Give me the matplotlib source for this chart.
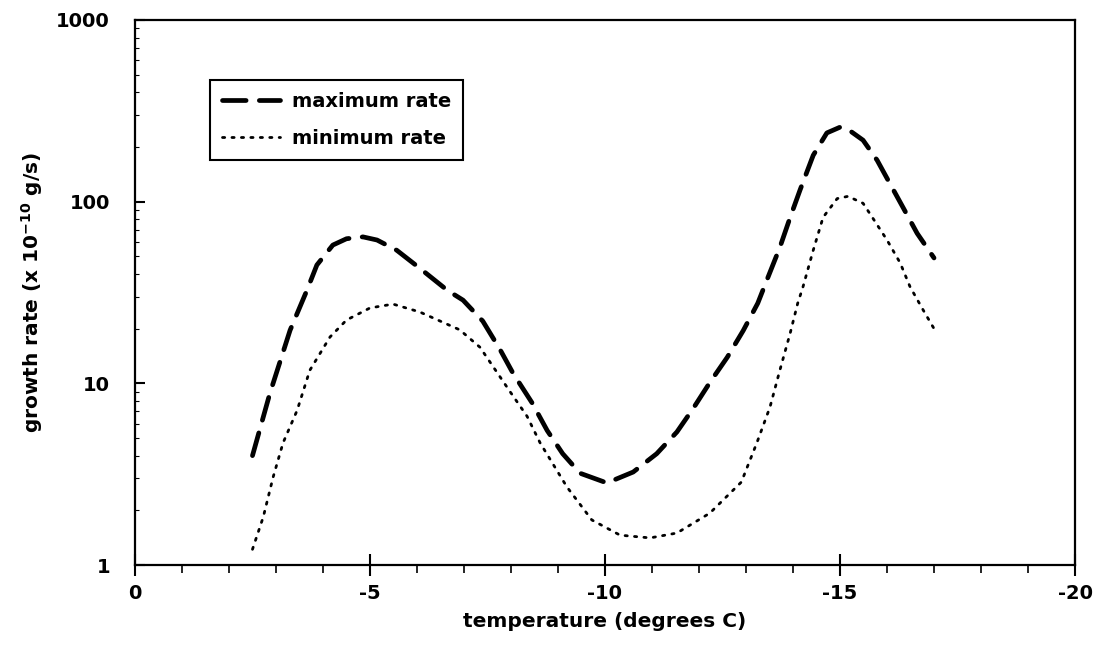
import matplotlib
matplotlib.use("Agg")
import matplotlib.pyplot as plt
from matplotlib.ticker import FixedLocator, NullFormatter

plt.rcParams['font.family'] = ['DejaVu Sans']
plt.rcParams['font.weight'] = 'bold'
plt.rcParams['axes.unicode_minus'] = False

# maximum rate curve
temp_max = [-2.5, -2.87, -3.3, -3.66, -3.87, -4.21, -4.5, -4.85, -5.15, -5.57,
            -6.06, -6.64, -6.98, -7.4, -7.77, -8.04, -8.45, -8.77, -9.1, -9.47,
            -10.04, -10.6, -11.1, -11.53, -11.88, -12.23, -12.6, -12.94, -13.25,
            -13.47, -13.72, -13.94, -14.15, -14.43, -14.72, -15.0, -15.17, -15.49,
            -15.79, -16.06, -16.34, -16.64, -17.0]
rate_max = [4.0, 8.8, 19.6, 32.6, 44.8, 57.7, 62.5, 64, 61.5, 54,
            43, 32.6, 28.7, 22, 15.3, 11.4, 7.8, 5.5, 4.1, 3.2,
            2.83, 3.25, 4.1, 5.4, 7.3, 10.1, 13.9, 19.5, 27.6,
            38.5, 56, 82, 116, 180, 239, 257, 250, 218,
            169, 126, 93, 67, 49]

# minimum rate curve
temp_min = [-2.5, -2.73, -2.94, -3.15, -3.45, -3.72, -4.15, -4.5, -5.0, -5.49,
            -6.06, -6.91, -7.34, -7.98, -8.34, -8.62, -9.19, -9.72, -10.32, -10.96,
            -11.53, -12.23, -12.9, -13.23, -13.51, -13.72, -13.94, -14.1, -14.21,
            -14.43, -14.64, -14.94, -15.17, -15.49, -15.7, -16.0, -16.28, -16.49,
            -16.77, -17.0]
rate_min = [1.22, 1.84, 3.05, 4.7, 7.1, 11.8, 18, 22.3, 26, 27.3,
            24.7, 19.7, 15.8, 9.0, 6.6, 4.7, 2.69, 1.77, 1.46, 1.41,
            1.5, 1.93, 2.86, 4.7, 7.4, 11.8, 18.9, 27.6, 33.8,
            54, 82, 104, 107, 98, 81, 61.5, 46, 34,
            25.3, 20]

x_ticks = [0, -5, -10, -15, -20]
x_labels = ['0', '-5', '-10', '-15', '-20']
y_ticks = [1, 10, 100, 1000]
y_labels = ['1', '10', '100', '1000']

fig, ax = plt.subplots(figsize=(11, 6.62), dpi=100)
fig.subplots_adjust(left=0.1227, right=0.9773, top=0.9698, bottom=0.1465)

ax.plot(temp_max, rate_max, color='black', lw=3.4, linestyle=(0, (5, 2.8)),
        solid_capstyle='round', dash_capstyle='round', label='maximum rate')
ax.plot(temp_min, rate_min, color='black', lw=2.0, linestyle=(0, (0.8, 2.6)),
        dash_capstyle='round', label='minimum rate')

ax.set_yscale('log')
ax.set_xlim(0, -20)
ax.set_ylim(1, 1000)

ax.set_xticks(x_ticks)
ax.set_xticklabels(x_labels)
ax.xaxis.set_minor_locator(FixedLocator(range(0, -21, -1)))
ax.set_yticks(y_ticks)
ax.set_yticklabels(y_labels)
ax.yaxis.set_minor_formatter(NullFormatter())

ax.tick_params(axis='x', which='major', direction='inout', length=16, width=1.5,
               labelsize=14, pad=6)
ax.tick_params(axis='x', which='minor', direction='out', length=6, width=1.2)
ax.tick_params(axis='y', which='major', direction='in', length=7, width=1.5,
               labelsize=14, pad=18)
ax.tick_params(axis='y', which='minor', direction='in', length=3, width=0.8)

for s in ax.spines.values():
    s.set_linewidth(1.6)

ax.set_xlabel('temperature (degrees C)', fontsize=14.5, fontweight='bold', labelpad=6)
ax.set_ylabel(r'growth rate (x 10$^{\mathbf{-10}}$ g/s)', fontsize=14.5,
              fontweight='bold', labelpad=8)

leg = ax.legend(loc='upper left', bbox_to_anchor=(0.08, 0.89), borderaxespad=0,
                fontsize=14, handlelength=3.0, handletextpad=0.6, labelspacing=0.95,
                borderpad=0.6, fancybox=False, framealpha=1, edgecolor='black')
leg.get_frame().set_linewidth(1.5)

fig.savefig('out.png', dpi=100)
